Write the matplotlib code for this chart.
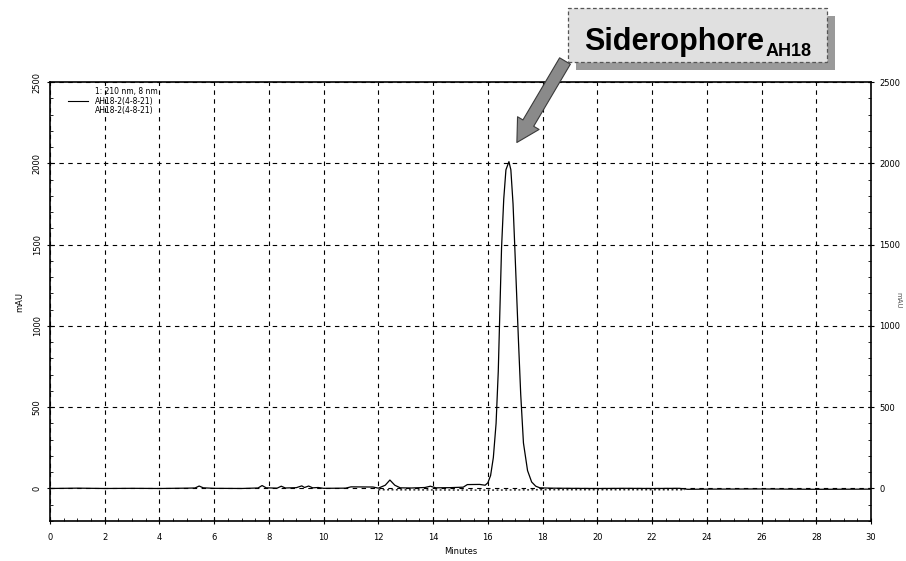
import matplotlib

matplotlib.use("Agg")
import matplotlib.pyplot as plt
from matplotlib.lines import Line2D
from matplotlib.patches import Rectangle
from matplotlib.ticker import MultipleLocator

OUTPUT_IMAGE = "out.png"

# chromatogram (minutes, mAU)
minutes = [
    0.0, 1.0, 2.0, 3.0, 4.0, 5.0, 5.3, 5.45, 5.6, 6.0, 7.0, 7.6, 7.75, 7.9,
    8.3, 8.45, 8.6, 9.0, 9.2, 9.3, 9.45, 9.6, 9.8, 10.0, 10.8, 11.0, 11.8,
    12.0, 12.25, 12.42, 12.6, 12.8, 13.2, 13.7, 13.9, 14.1, 14.6, 15.1, 15.25,
    15.7, 15.9, 16.0, 16.1, 16.2, 16.3, 16.38, 16.44, 16.5, 16.58, 16.66,
    16.77, 16.84, 16.92, 16.98, 17.05, 17.12, 17.2, 17.3, 17.45, 17.6, 17.75,
    17.9, 18.3, 19.0, 20.0, 21.0, 22.0, 23.0, 23.3, 24.0, 26.0, 28.0, 30.0,
]
absorbance = [
    0, 2, 0, 1, 0, 2, 3, 15, 4, 1, 0, 3, 18, 4, 2, 14, 3, 5, 16, 6, 15, 4, 6,
    1, 2, 10, 9, 2, 20, 52, 20, 4, 3, 6, 14, 4, 5, 8, 24, 25, 20, 35, 80, 190,
    400, 720, 1100, 1480, 1780, 1960, 2010, 1960, 1750, 1500, 1200, 900, 580,
    280, 110, 40, 14, 4, 2, 1, 0, 1, 0, 1, -5, -4, -3, -5, -4,
]

# integration baseline (dotted)
baseline_minutes = [12.0, 16.0, 18.0, 23.2]
baseline_values = [-8, -10, -8, -8]

legend_labels = ["1: 210 nm, 8 nm", "AH18-2(4-8-21)", "AH18-2(4-8-21)"]

fig = plt.figure(figsize=(9.06, 5.61), dpi=100)
ax = fig.add_axes([50 / 906, 40 / 561, 821 / 906, 439 / 561])

ax.plot(minutes, absorbance, color="black", linewidth=0.9)
ax.plot(baseline_minutes, baseline_values, color="black", linewidth=0.9,
        linestyle=(0, (1.5, 2)))

ax.set_xlim(0, 30)
ax.set_ylim(-200, 2500)
ax.xaxis.set_major_locator(MultipleLocator(2))
ax.xaxis.set_minor_locator(MultipleLocator(0.5))
ax.yaxis.set_major_locator(MultipleLocator(500))
ax.yaxis.set_minor_locator(MultipleLocator(100))
ax.grid(True, which="major", color="black", linestyle=(0, (4, 4)),
        linewidth=0.8)

ax.tick_params(which="major", direction="inout", length=5, width=0.8,
               labelsize=6, right=True, labelright=True)
ax.tick_params(which="minor", direction="in", length=2.5, width=0.6,
               right=True)
ax.tick_params(axis="x", pad=6)
for tick in ax.yaxis.get_major_ticks():
    tick.label2.set_rotation(0)
    tick.label1.set_rotation(90)
    tick.label1.set_va("center")

for spine in ax.spines.values():
    spine.set_linewidth(1.2)

ax.set_xlabel("Minutes", fontsize=6, labelpad=4)
ax.set_ylabel("mAU", fontsize=6, labelpad=6)
fig.text(898 / 906, 1 - 300 / 561, "mAU", fontsize=5, rotation=270,
         ha="center", va="center", color="#555555")

handles = [
    Line2D([], [], color="none"),
    Line2D([], [], color="black", linewidth=0.8),
    Line2D([], [], color="none"),
]
ax.legend(handles, legend_labels, loc="upper left",
          bbox_to_anchor=(0.015, 1.0), frameon=False, fontsize=5.5,
          handlelength=2.6, handletextpad=1.0, labelspacing=0.05,
          borderaxespad=0.3)

# label box with shadow
shadow = Rectangle((576 / 906, 1 - 70 / 561), 259 / 906, 54 / 561,
                   transform=fig.transFigure, facecolor="#9a9a9a",
                   edgecolor="none", zorder=5)
box = Rectangle((568 / 906, 1 - 62 / 561), 259 / 906, 54 / 561,
                transform=fig.transFigure, facecolor="#e0e0e0",
                edgecolor="#555555", linestyle=(0, (3, 2)), linewidth=0.9,
                zorder=6)
fig.patches.extend([shadow, box])
fig.text(584 / 906, 1 - 50 / 561, "Siderophore", fontsize=22,
         fontweight="bold", family="Liberation Sans", ha="left",
         va="baseline", zorder=7)
fig.text(766 / 906, 1 - 56 / 561, "AH18", fontsize=13, fontweight="bold",
         family="Liberation Sans", ha="left", va="baseline", zorder=7)

ax.annotate("", xy=(17.06, 2128), xycoords="data",
            xytext=(565, 500), textcoords="figure pixels",
            arrowprops=dict(arrowstyle="simple,head_length=0.9,"
                            "head_width=1.0,tail_width=0.5",
                            facecolor="#8a8a8a", edgecolor="#3a3a3a",
                            linewidth=0.8, mutation_scale=18,
                            shrinkA=0, shrinkB=0),
            annotation_clip=False)

fig.savefig(OUTPUT_IMAGE, dpi=100)
plt.close(fig)
